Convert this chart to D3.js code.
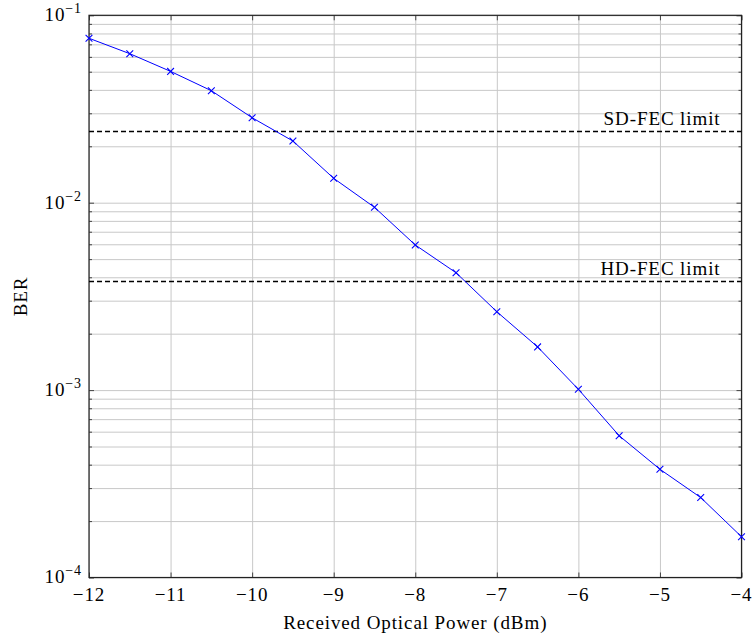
<!DOCTYPE html>
<html>
<head>
<meta charset="utf-8">
<script src="https://cdn.jsdelivr.net/npm/d3@7"></script>
<style>
  body { margin: 0; background: #fff; }
  svg text { font-family: "Liberation Serif", "DejaVu Serif", serif; fill: #000; letter-spacing: 0.9px; }
</style>
</head>
<body>
<svg id="chart" width="754" height="635"></svg>
<script>
// received optical power (dBm) and measured BER
const power = [-12, -11.5, -11, -10.5, -10, -9.5, -9, -8.5, -8, -7.5, -7, -6.5, -6, -5.5, -5, -4.5, -4];
const ber = [0.0754, 0.0624, 0.0502, 0.0396, 0.0284, 0.02134, 0.01349, 0.00945, 0.00595, 0.00423,
             0.00262, 0.0017, 0.00101, 0.000571, 0.000378, 0.000267, 0.000165];

// FEC thresholds
const fecLabels = ["SD-FEC limit", "HD-FEC limit"];
const fecValues = [2.4e-2, 3.8e-3];

// tick labels
const xTicks = [-12, -11, -10, -9, -8, -7, -6, -5, -4];
const yDecades = [-4, -3, -2, -1];
const minorMantissa = [2, 3, 4, 5, 6, 7, 8, 9];

const svg = d3.select("#chart");
const margin = { top: 15.3, right: 12.5, bottom: 57.5, left: 89 };
const width = +svg.attr("width") - margin.left - margin.right;
const height = +svg.attr("height") - margin.top - margin.bottom;

const xScale = d3.scaleLinear().domain([-12, -4]).range([0, width]);
const yScale = d3.scaleLog().domain([1e-4, 1e-1]).range([height, 0]);

const g = svg.append("g")
  .attr("transform", "translate(" + margin.left + "," + margin.top + ")");

const majorY = yDecades.map(e => Math.pow(10, e));
const minorY = [];
yDecades.slice(0, -1).forEach(e => {
  minorMantissa.forEach(m => minorY.push(m * Math.pow(10, e)));
});

// grid
g.append("g")
  .attr("class", "grid")
  .attr("transform", "translate(0," + height + ")")
  .call(d3.axisBottom(xScale).tickValues(xTicks).tickSize(-height).tickFormat(""))
  .call(s => s.select(".domain").remove())
  .call(s => s.selectAll("line").attr("stroke", "#c8c8c8").attr("stroke-width", 1));

g.append("g")
  .attr("class", "grid")
  .call(d3.axisLeft(yScale).tickValues(majorY.concat(minorY)).tickSize(-width).tickFormat(""))
  .call(s => s.select(".domain").remove())
  .call(s => s.selectAll("line").attr("stroke", "#c8c8c8").attr("stroke-width", 1));

// inner ticks on all four sides
const tickColor = "#444";
g.append("g").attr("transform", "translate(0," + height + ")")
  .call(d3.axisBottom(xScale).tickValues(xTicks).tickSize(-5).tickFormat(""))
  .call(s => s.select(".domain").remove())
  .call(s => s.selectAll("line").attr("stroke", tickColor));
g.append("g")
  .call(d3.axisTop(xScale).tickValues(xTicks).tickSize(-5).tickFormat(""))
  .call(s => s.select(".domain").remove())
  .call(s => s.selectAll("line").attr("stroke", tickColor));
[[0, d3.axisLeft], [width, d3.axisRight]].forEach(([tx, axisFn]) => {
  g.append("g").attr("transform", "translate(" + tx + ",0)")
    .call(axisFn(yScale).tickValues(majorY).tickSize(-5).tickFormat(""))
    .call(s => s.select(".domain").remove())
    .call(s => s.selectAll("line").attr("stroke", tickColor));
  g.append("g").attr("transform", "translate(" + tx + ",0)")
    .call(axisFn(yScale).tickValues(minorY).tickSize(-3).tickFormat(""))
    .call(s => s.select(".domain").remove())
    .call(s => s.selectAll("line").attr("stroke", tickColor));
});

// frame
g.append("rect")
  .attr("width", width).attr("height", height)
  .attr("fill", "none").attr("stroke", "#222").attr("stroke-width", 1.2);

// x tick labels
g.selectAll(".xlab")
  .data(xTicks)
  .enter().append("text")
  .attr("class", "xlab")
  .attr("x", d => xScale(d))
  .attr("y", height + 24)
  .attr("text-anchor", "middle")
  .attr("font-size", 19)
  .text(d => "\u2212" + Math.abs(d));

// y tick labels 10^n
const ylab = g.selectAll(".ylab")
  .data(yDecades)
  .enter().append("text")
  .attr("class", "ylab")
  .attr("x", -7)
  .attr("y", d => yScale(Math.pow(10, d)) + 6)
  .attr("text-anchor", "end")
  .attr("font-size", 19);
ylab.append("tspan").text("10");
ylab.append("tspan").attr("dy", -8).attr("font-size", 14).text(d => "\u2212" + Math.abs(d));

// axis titles
g.append("text")
  .attr("x", width / 2)
  .attr("y", height + 52)
  .attr("text-anchor", "middle")
  .attr("font-size", 19)
  .text("Received Optical Power (dBm)");

g.append("text")
  .attr("transform", "translate(" + (-62) + "," + (height / 2) + ") rotate(-90)")
  .attr("text-anchor", "middle")
  .attr("font-size", 19)
  .text("BER");

// FEC limits
g.selectAll(".fec")
  .data(fecValues)
  .enter().append("line")
  .attr("class", "fec")
  .attr("x1", 0).attr("x2", width)
  .attr("y1", d => yScale(d)).attr("y2", d => yScale(d))
  .attr("stroke", "#000")
  .attr("stroke-width", 1.6)
  .attr("stroke-dasharray", "5,3");

g.selectAll(".feclab")
  .data(fecLabels)
  .enter().append("text")
  .attr("class", "feclab")
  .attr("x", width - 21)
  .attr("y", (d, i) => yScale(fecValues[i]) - 6)
  .attr("text-anchor", "end")
  .attr("font-size", 19)
  .text(d => d);

// BER curve
const line = d3.line()
  .x((d, i) => xScale(power[i]))
  .y(d => yScale(d));

g.append("path")
  .datum(ber)
  .attr("fill", "none")
  .attr("stroke", "#0000ff")
  .attr("stroke-width", 1)
  .attr("d", line);

const m = 3.4;
const marks = g.selectAll(".mark")
  .data(ber)
  .enter().append("g")
  .attr("class", "mark")
  .attr("transform", (d, i) => "translate(" + xScale(power[i]) + "," + yScale(d) + ")");
marks.append("path")
  .attr("d", "M" + (-m) + "," + (-m) + "L" + m + "," + m + "M" + (-m) + "," + m + "L" + m + "," + (-m))
  .attr("stroke", "#0000ff")
  .attr("stroke-width", 1.1);
</script>
</body>
</html>
